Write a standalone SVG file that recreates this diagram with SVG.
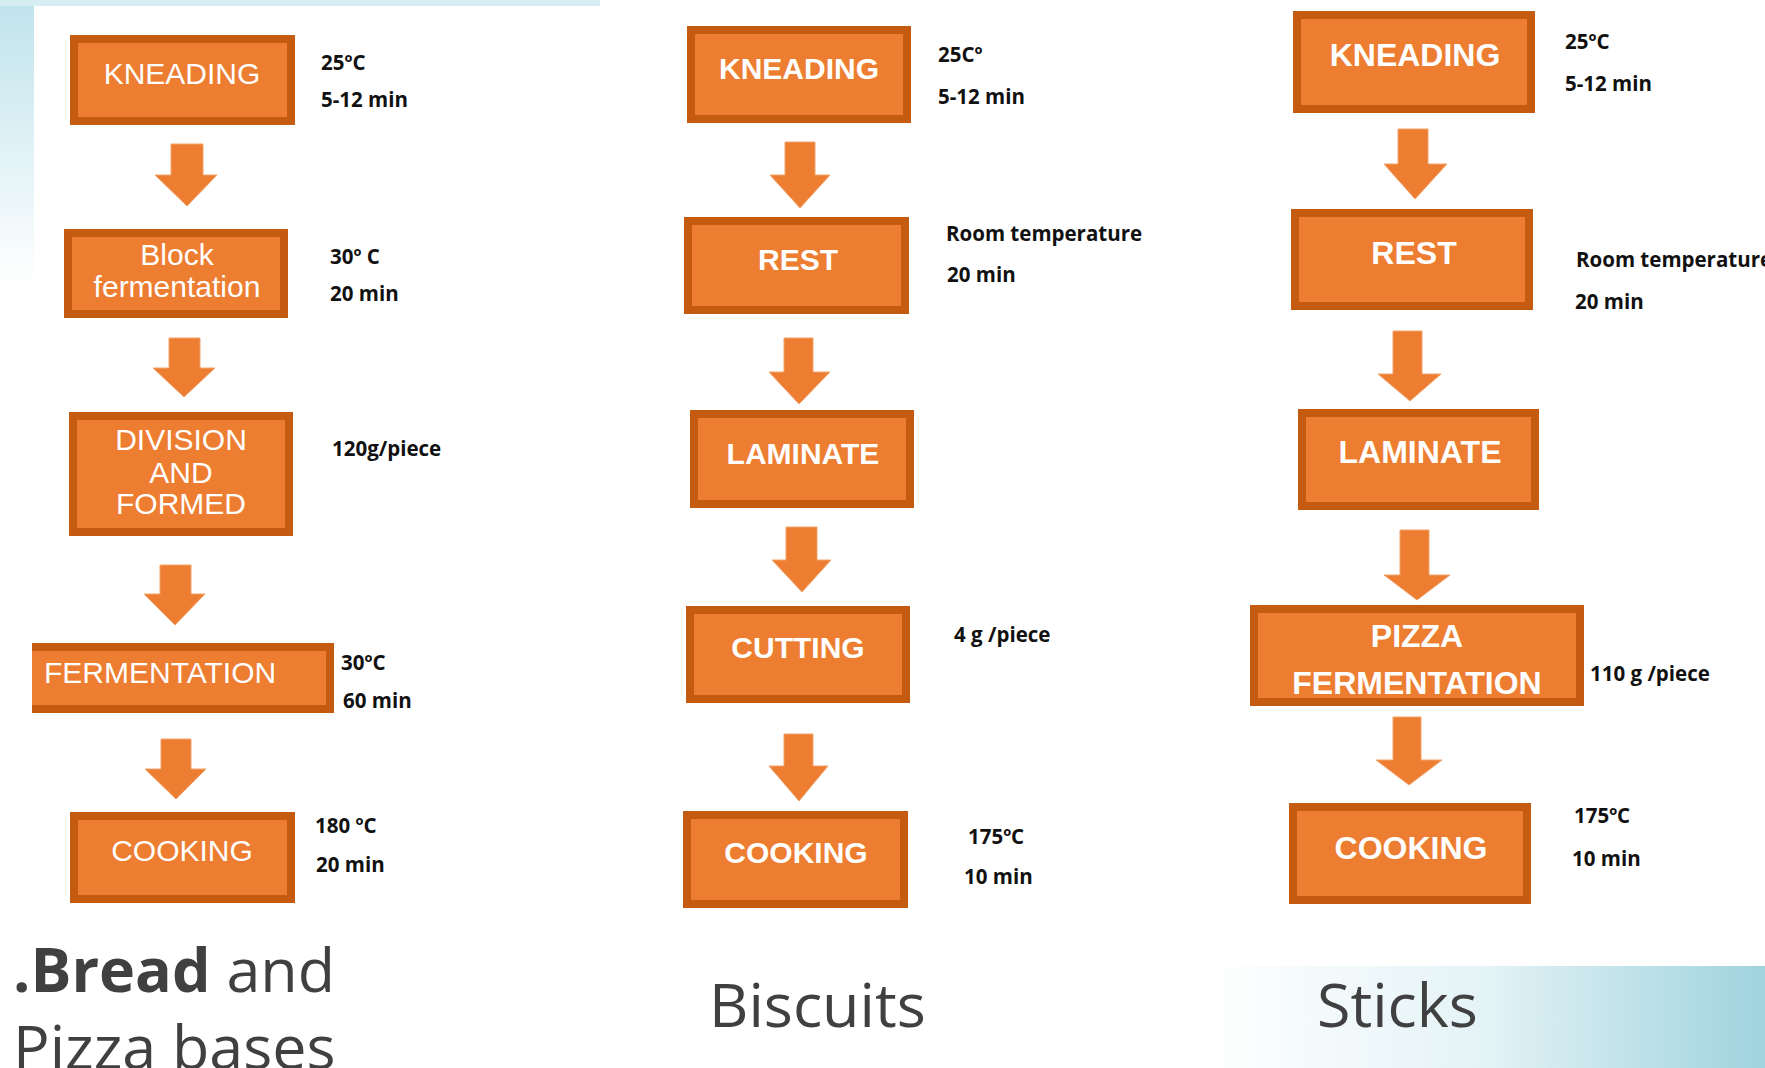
<svg xmlns="http://www.w3.org/2000/svg" width="1765" height="1068" viewBox="0 0 1765 1068">
<style>
.box{fill:#ED7D31;stroke:#C55A11;stroke-width:8}
.arr{fill:#ED7D31;stroke:#F2A36B;stroke-width:1}
.t1{font-family:"Liberation Sans",Arial,sans-serif;font-size:30px;fill:#fff;text-anchor:middle}
.t2{font-family:"Liberation Sans",Arial,sans-serif;font-size:30px;font-weight:bold;fill:#fff;text-anchor:middle}
.t3{font-family:"Liberation Sans",Arial,sans-serif;font-size:32px;font-weight:bold;fill:#fff;text-anchor:middle}
.lb{font-family:"Open Sans","Liberation Sans",sans-serif;font-size:20.5px;font-weight:bold;fill:#111}
.ttl{font-family:"Open Sans","Liberation Sans",sans-serif;font-size:61px;fill:#404040}
</style>
<defs>
<linearGradient id="gBR" x1="0" y1="0" x2="1" y2="0">
<stop offset="0" stop-color="#ffffff"/>
<stop offset="0.5" stop-color="#e4f3f6"/>
<stop offset="1" stop-color="#9fd3de"/>
</linearGradient>
<linearGradient id="gTL" x1="0" y1="0" x2="0" y2="1">
<stop offset="0" stop-color="#bfe3ec"/>
<stop offset="1" stop-color="#ffffff"/>
</linearGradient>
</defs>
<rect width="1765" height="1068" fill="#ffffff"/>
<rect x="0" y="0" width="34" height="285" fill="url(#gTL)"/>
<rect x="0" y="0" width="600" height="6" fill="#d6eef3"/>
<rect x="1205" y="966" width="560" height="102" fill="url(#gBR)"/>

<g id="connectors">
<path class="arr" d="M171,144H203V175H217L187,206L155,175H171Z"/>
<path class="arr" d="M169,338H200V368H215L184,397L153,368H169Z"/>
<path class="arr" d="M160,565H191V594H205L175,625L144,594H160Z"/>
<path class="arr" d="M161,739H191V769H206L176,799L145,769H161Z"/>
<path class="arr" d="M785,142H815V175H830L800,208L770,175H785Z"/>
<path class="arr" d="M784,338H813V372H830L799,404L769,372H784Z"/>
<path class="arr" d="M786,527H817V560H831L802,592L772,560H786Z"/>
<path class="arr" d="M784,734H813V766H828L799,801L769,766H784Z"/>
<path class="arr" d="M1398,129H1428V164H1447L1415,199L1384,164H1398Z"/>
<path class="arr" d="M1393,331H1422V374H1441L1410,401L1378,374H1393Z"/>
<path class="arr" d="M1400,530H1429V575H1450L1417,600L1384,575H1400Z"/>
<path class="arr" d="M1393,717H1421V760H1442L1409,785L1376,760H1393Z"/>
</g>

<g id="bread-kneading">
<rect class="box" x="74" y="39" width="217" height="82"/>
<text class="t1" x="182" y="84">KNEADING</text>
<text class="lb" x="321" y="70">25ºC</text>
<text class="lb" x="321" y="107">5-12 min</text>
</g>
<g id="bread-block">
<rect class="box" x="68" y="233" width="216" height="81"/>
<text class="t1" x="177" y="265">Block</text>
<text class="t1" x="177" y="297">fermentation</text>
<text class="lb" x="330" y="264">30º C</text>
<text class="lb" x="330" y="301">20 min</text>
</g>
<g id="bread-division">
<rect class="box" x="73" y="416" width="216" height="116"/>
<text class="t1" x="181" y="450">DIVISION</text>
<text class="t1" x="181" y="483">AND</text>
<text class="t1" x="181" y="514">FORMED</text>
<text class="lb" x="332" y="456">120g/piece</text>
</g>
<g id="bread-fermentation">
<rect x="32" y="643" width="302" height="70" fill="#ED7D31"/>
<path d="M32,647H330V709H32" fill="none" stroke="#C55A11" stroke-width="8"/>
<text class="t1" x="44" y="683" style="text-anchor:start">FERMENTATION</text>
<text class="lb" x="341" y="670">30ºC</text>
<text class="lb" x="343" y="708">60 min</text>
</g>
<g id="bread-cooking">
<rect class="box" x="74" y="816" width="217" height="83"/>
<text class="t1" x="182" y="861">COOKING</text>
<text class="lb" x="315" y="833">180 ºC</text>
<text class="lb" x="316" y="872">20 min</text>
</g>

<g id="biscuits-kneading">
<rect class="box" x="691" y="30" width="216" height="89"/>
<text class="t2" x="799" y="79">KNEADING</text>
<text class="lb" x="938" y="62">25Cº</text>
<text class="lb" x="938" y="104">5-12 min</text>
</g>
<g id="biscuits-rest">
<rect class="box" x="688" y="221" width="217" height="89"/>
<text class="t2" x="798" y="270">REST</text>
<text class="lb" x="946" y="241">Room temperature</text>
<text class="lb" x="947" y="282">20 min</text>
</g>
<g id="biscuits-laminate">
<rect class="box" x="694" y="414" width="216" height="90"/>
<text class="t2" x="803" y="464">LAMINATE</text>
</g>
<g id="biscuits-cutting">
<rect class="box" x="690" y="610" width="216" height="89"/>
<text class="t2" x="798" y="658">CUTTING</text>
<text class="lb" x="954" y="642">4 g /piece</text>
</g>
<g id="biscuits-cooking">
<rect class="box" x="687" y="815" width="217" height="89"/>
<text class="t2" x="796" y="863">COOKING</text>
<text class="lb" x="968" y="844">175ºC</text>
<text class="lb" x="964" y="884">10 min</text>
</g>

<g id="sticks-kneading">
<rect class="box" x="1297" y="15" width="234" height="94"/>
<text class="t3" x="1415" y="66">KNEADING</text>
<text class="lb" x="1565" y="49">25ºC</text>
<text class="lb" x="1565" y="91">5-12 min</text>
</g>
<g id="sticks-rest">
<rect class="box" x="1295" y="213" width="234" height="93"/>
<text class="t3" x="1414" y="264">REST</text>
<text class="lb" x="1576" y="267">Room temperature</text>
<text class="lb" x="1575" y="309">20 min</text>
</g>
<g id="sticks-laminate">
<rect class="box" x="1302" y="413" width="233" height="93"/>
<text class="t3" x="1420" y="463">LAMINATE</text>
</g>
<g id="sticks-pizza-fermentation">
<rect class="box" x="1254" y="609" width="326" height="93"/>
<text class="t3" x="1417" y="647">PIZZA</text>
<text class="t3" x="1417" y="694">FERMENTATION</text>
<text class="lb" x="1590" y="681">110 g /piece</text>
</g>
<g id="sticks-cooking">
<rect class="box" x="1293" y="807" width="234" height="93"/>
<text class="t3" x="1411" y="859">COOKING</text>
<text class="lb" x="1574" y="823">175ºC</text>
<text class="lb" x="1572" y="866">10 min</text>
</g>

<g id="titles">
<text class="ttl" x="13" y="992"><tspan font-weight="bold">.Bread</tspan> and</text>
<text class="ttl" x="13" y="1069">Pizza bases</text>
<text class="ttl" x="709" y="1027">Biscuits</text>
<text class="ttl" x="1317" y="1027">Sticks</text>
</g>
</svg>
